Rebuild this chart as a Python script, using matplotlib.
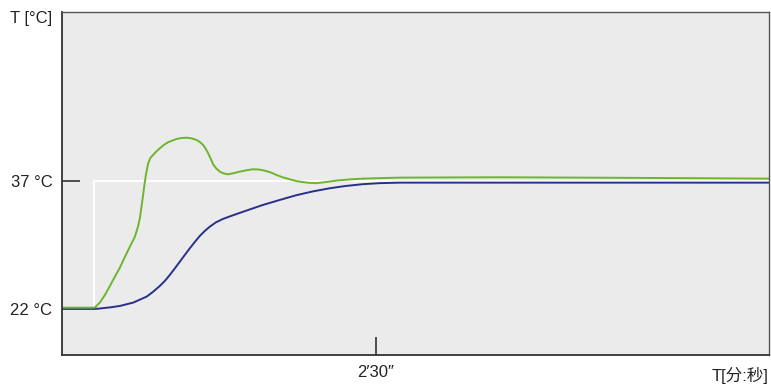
import matplotlib
matplotlib.use("Agg")
import matplotlib.pyplot as plt

plt.rcParams['font.family'] = ['Liberation Sans Narrow', 'Liberation Sans', 'Noto Sans CJK SC', 'DejaVu Sans']

# time in seconds, temperature in degC
setpoint_t = [0, 15.3, 15.3, 338.2]
setpoint_T = [22.0, 22.0, 37.0, 37.0]

green_t = [0, 15.29, 15.76, 18.15, 20.54, 22.93, 25.32, 27.71, 30.10, 32.48, 34.87, 36.31,
           37.26, 38.36, 39.32, 40.13, 41.23, 42.28, 43.61, 45.14, 46.82, 48.73, 50.78, 52.55,
           54.79, 56.85, 59.57, 61.86, 64.35, 65.92, 67.50, 68.79, 69.89, 71.18, 72.28, 73.81,
           75.48, 77.39, 79.44, 82.17, 85.03, 88.14, 91.39, 94.11, 96.97, 99.84, 102.57, 105.57,
           108.92, 112.12, 115.27, 118.47, 121.67, 125.64, 131.23, 137.58, 143.93, 161.46,
           209.24, 257.01, 304.78, 338.22]
green_T = [22.15, 22.15, 22.18, 22.75, 23.64, 24.70, 25.79, 26.85, 28.10, 29.30, 30.47, 31.61,
           32.63, 34.57, 36.33, 37.70, 39.07, 39.70, 40.05, 40.46, 40.83, 41.22, 41.54, 41.71,
           41.92, 42.02, 42.07, 42.00, 41.80, 41.57, 41.22, 40.75, 40.25, 39.58, 38.96, 38.46,
           38.09, 37.88, 37.78, 37.91, 38.09, 38.25, 38.37, 38.34, 38.21, 38.00, 37.70, 37.43,
           37.20, 36.98, 36.86, 36.77, 36.74, 36.85, 37.04, 37.18, 37.27, 37.39,
           37.43, 37.38, 37.32, 37.27]

blue_t = [0, 15.76, 18.15, 22.93, 27.71, 34.06, 40.46, 43.47, 46.82, 49.20, 51.59, 53.98,
          56.37, 58.76, 61.15, 63.54, 65.92, 68.31, 70.70, 73.57, 77.05, 80.25, 83.44, 89.81,
          96.16, 104.14, 112.12, 119.90, 128.03, 135.67, 143.93, 151.91, 161.46, 338.22]
blue_T = [22.0, 22.0, 22.05, 22.18, 22.35, 22.74, 23.44, 23.99, 24.70, 25.28, 25.99, 26.75,
          27.54, 28.33, 29.11, 29.85, 30.55, 31.14, 31.64, 32.14, 32.55, 32.84, 33.12, 33.66,
          34.19, 34.77, 35.33, 35.77, 36.14, 36.41, 36.62, 36.74, 36.80, 36.80]

yticks = [22, 37]
ytick_labels = ["22 °C", "37 °C"]
xticks = [150]
xtick_labels = ["2′30″"]

fig = plt.figure(figsize=(7.71, 3.85), dpi=100)
ax = fig.add_axes([62 / 771, 30 / 385, 707 / 771, 343 / 385])
ax.set_facecolor('#ebebeb')

ax.plot(setpoint_t, setpoint_T, color='white', lw=1.3)
ax.plot(blue_t, blue_T, color='#27318b', lw=1.4, solid_joinstyle='round')
ax.plot(green_t, green_T, color='#6cb52d', lw=1.4, solid_joinstyle='round')

ax.set_xlim(0, 338.2)
ax.set_ylim(16.6, 56.8)

ax.set_yticks(yticks)
ax.set_yticklabels(ytick_labels)
ax.set_xticks(xticks)
ax.set_xticklabels(xtick_labels)
ax.tick_params(direction='in', length=13, width=1.2, color='#333333', pad=7,
               labelsize=12, labelcolor='#222222')

for side in ['left', 'bottom']:
    ax.spines[side].set_color('#333333')
    ax.spines[side].set_linewidth(1.3)
for side in ['top', 'right']:
    ax.spines[side].set_color('#555555')
    ax.spines[side].set_linewidth(1.0)

fig.text(10 / 771, 1 - 19 / 385, "T [°C]", fontsize=12, color='#222222', va='center', ha='left')
fig.text(768 / 771, 1 - 375 / 385, "T[分:秒]", fontsize=12, color='#222222', va='center', ha='right')

fig.savefig("out.png", dpi=100)
